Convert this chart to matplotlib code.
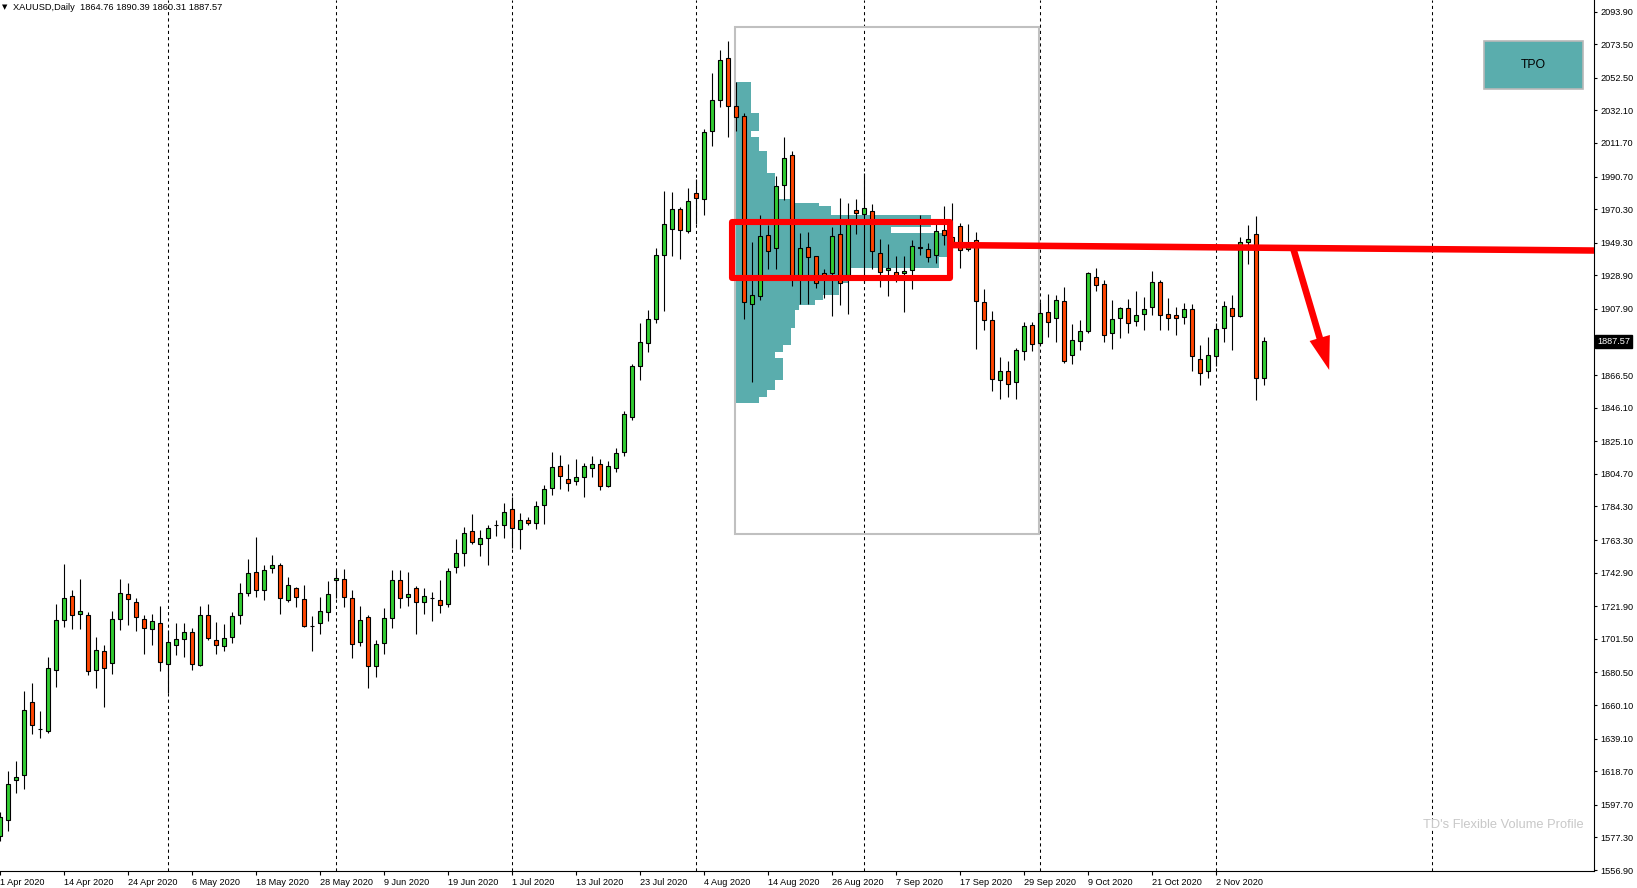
import numpy as np
import matplotlib.pyplot as plt
from matplotlib.patches import Rectangle
from matplotlib.transforms import blended_transform_factory

# daily OHLC, XAUUSD, 1 Apr 2020 .. 10 Nov 2020 (bar index = position on chart)
opens = [1578.0, 1588.0, 1613.4, 1616.6, 1662.3, 1645.1, 1643.9, 1681.9, 1713.4, 1728.5,
         1717.1, 1716.5, 1681.9, 1693.9, 1686.3, 1714.0, 1729.7, 1724.7, 1714.0, 1707.7,
         1711.5, 1685.7, 1697.7, 1701.4, 1705.8, 1685.1, 1716.5, 1700.8, 1697.0, 1702.7,
         1716.5, 1730.3, 1743.5, 1732.2, 1746.1, 1747.9, 1725.9, 1733.5, 1726.6, 1709.8,
         1711.5, 1718.4, 1738.5, 1739.1, 1727.2, 1699.5, 1715.3, 1684.5, 1698.9, 1714.6,
         1738.5, 1727.8, 1733.5, 1724.3, 1726.8, 1725.6, 1723.1, 1746.2, 1755.0, 1768.7,
         1760.6, 1764.4, 1772.9, 1772.5, 1782.5, 1770.0, 1775.6, 1773.7, 1785.0, 1795.6,
         1809.4, 1801.3, 1800.0, 1802.5, 1808.1, 1810.6, 1796.9, 1808.1, 1818.2, 1840.5,
         1872.0, 1886.4, 1901.4, 1941.4, 1957.7, 1970.2, 1956.4, 1980.2, 1976.4, 2019.0,
         2038.4, 2064.6, 2034.6, 2028.3, 1910.8, 1915.7, 1953.9, 1945.8, 1985.2, 2004.0,
         1928.1, 1946.4, 1940.8, 1930.1, 1930.1, 1954.5, 1929.1, 1969.6, 1967.1, 1968.9,
         1942.7, 1932.0, 1930.8, 1930.1, 1932.0, 1946.3, 1945.1, 1941.4, 1957.0, 1953.0,
         1959.5, 1945.1, 1950.8, 1912.0, 1900.7, 1863.2, 1868.8, 1861.9, 1881.3, 1897.6,
         1886.3, 1905.7, 1901.9, 1912.6, 1878.8, 1887.6, 1893.8, 1927.6, 1923.2, 1892.6,
         1902.0, 1908.2, 1900.1, 1904.5, 1908.9, 1924.5, 1904.5, 1903.9, 1902.6, 1907.6,
         1876.3, 1868.8, 1878.2, 1895.7, 1908.3, 1903.3, 1949.6, 1954.6, 1864.76]
highs = [1593.0, 1619.1, 1624.8, 1668.8, 1673.9, 1656.1, 1690.4, 1723.0, 1748.1, 1731.8,
         1739.1, 1718.2, 1702.7, 1697.7, 1719.2, 1739.1, 1736.6, 1727.2, 1716.5, 1717.1,
         1722.2, 1707.1, 1711.5, 1711.5, 1708.3, 1722.2, 1723.4, 1712.1, 1710.9, 1718.4,
         1736.6, 1751.7, 1765.5, 1748.0, 1754.2, 1749.2, 1740.4, 1734.1, 1735.4, 1715.9,
         1727.8, 1737.9, 1744.8, 1745.4, 1732.2, 1722.2, 1716.5, 1700.8, 1720.9, 1744.8,
         1744.8, 1743.5, 1734.7, 1733.1, 1730.6, 1738.1, 1745.6, 1763.9, 1771.5, 1779.6,
         1769.6, 1772.5, 1775.8, 1786.3, 1790.0, 1780.0, 1777.5, 1787.5, 1797.5, 1818.4,
         1816.3, 1810.6, 1813.8, 1811.3, 1815.7, 1813.8, 1812.5, 1820.7, 1843.8, 1873.5,
         1899.1, 1907.2, 1945.8, 1981.4, 1980.8, 1971.4, 1983.3, 1988.9, 2020.2, 2055.2,
         2069.6, 2075.3, 2049.6, 2030.2, 1949.5, 1966.4, 1960.2, 1990.8, 2015.2, 2006.5,
         1955.2, 1955.8, 1941.0, 1933.0, 1958.9, 1977.1, 1974.1, 1976.4, 1992.7, 1973.3,
         1951.4, 1948.3, 1940.8, 1940.8, 1950.8, 1966.4, 1948.9, 1960.8, 1972.0, 1973.9,
         1961.4, 1960.8, 1955.8, 1920.1, 1906.4, 1877.6, 1875.1, 1883.2, 1899.5, 1899.5,
         1912.0, 1917.0, 1916.4, 1921.4, 1898.2, 1900.7, 1930.7, 1933.2, 1925.7, 1913.2,
         1908.9, 1913.9, 1918.9, 1915.1, 1931.4, 1925.7, 1914.5, 1908.9, 1911.4, 1910.7,
         1885.1, 1890.1, 1898.8, 1913.0, 1916.4, 1952.7, 1960.2, 1965.8, 1890.39]
lows = [1575.0, 1581.6, 1604.9, 1607.5, 1641.7, 1639.8, 1642.4, 1671.7, 1708.8, 1707.5,
        1707.5, 1679.2, 1671.0, 1659.1, 1679.8, 1706.9, 1710.0, 1706.2, 1691.8, 1697.4,
        1681.1, 1667.9, 1691.4, 1690.1, 1681.9, 1684.5, 1700.8, 1691.8, 1693.9, 1698.9,
        1710.9, 1728.5, 1727.8, 1725.9, 1742.9, 1717.1, 1724.7, 1721.5, 1709.0, 1693.9,
        1704.6, 1712.7, 1727.2, 1721.5, 1689.5, 1697.0, 1670.6, 1677.5, 1692.0, 1708.3,
        1720.9, 1722.2, 1704.6, 1717.2, 1712.9, 1717.9, 1721.6, 1742.9, 1747.3, 1761.0,
        1753.5, 1747.9, 1766.0, 1764.8, 1758.5, 1757.9, 1772.9, 1770.4, 1773.5, 1791.7,
        1795.4, 1794.2, 1797.9, 1790.4, 1802.9, 1794.8, 1796.3, 1806.1, 1816.1, 1838.5,
        1863.6, 1881.2, 1899.1, 1906.8, 1941.2, 1939.3, 1955.2, 1960.8, 1966.8, 2009.6,
        2034.0, 2015.2, 2019.0, 1901.4, 1862.4, 1913.2, 1932.6, 1932.6, 1975.8, 1922.0,
        1911.0, 1911.0, 1921.0, 1914.5, 1903.2, 1910.3, 1905.0, 1954.5, 1924.0, 1932.6,
        1921.8, 1916.2, 1924.5, 1906.2, 1920.1, 1941.4, 1937.0, 1936.4, 1948.0, 1945.0,
        1933.3, 1943.9, 1882.6, 1894.5, 1856.3, 1851.3, 1852.6, 1851.3, 1875.7, 1881.3,
        1885.1, 1890.1, 1887.0, 1874.0, 1873.2, 1881.9, 1893.0, 1918.9, 1887.0, 1882.6,
        1889.5, 1892.6, 1897.0, 1894.5, 1903.9, 1894.5, 1894.5, 1891.3, 1898.2, 1869.2,
        1860.1, 1864.4, 1872.0, 1887.0, 1882.0, 1902.7, 1935.8, 1850.9, 1860.31]
closes = [1590.1, 1610.8, 1614.9, 1657.2, 1647.7, 1645.1, 1683.2, 1713.4, 1727.2, 1716.5,
          1719.2, 1681.3, 1694.5, 1683.2, 1714.0, 1730.3, 1726.6, 1715.3, 1708.3, 1712.7,
          1687.0, 1699.5, 1701.4, 1705.8, 1685.7, 1716.5, 1702.1, 1697.7, 1702.1, 1715.9,
          1730.3, 1742.9, 1732.2, 1744.8, 1747.9, 1727.2, 1735.4, 1727.8, 1709.6, 1709.8,
          1719.0, 1729.7, 1739.8, 1727.8, 1698.3, 1713.4, 1684.5, 1698.3, 1714.6, 1738.5,
          1727.2, 1729.7, 1724.7, 1728.1, 1726.8, 1722.5, 1743.7, 1755.0, 1767.5, 1761.9,
          1764.4, 1770.6, 1772.9, 1780.6, 1770.6, 1775.6, 1773.7, 1784.4, 1795.0, 1808.8,
          1803.1, 1798.8, 1802.5, 1809.4, 1810.6, 1796.9, 1809.4, 1817.5, 1841.9, 1872.0,
          1887.0, 1901.4, 1941.4, 1960.8, 1970.2, 1957.1, 1975.2, 1977.1, 2018.3, 2038.4,
          2063.4, 2034.6, 2027.7, 1912.0, 1916.4, 1953.3, 1943.9, 1984.6, 2002.1, 1928.1,
          1945.8, 1940.2, 1923.9, 1928.5, 1953.3, 1923.9, 1960.8, 1967.7, 1970.8, 1943.9,
          1930.8, 1933.3, 1928.7, 1931.4, 1947.0, 1946.2, 1940.1, 1956.4, 1953.9, 1950.0,
          1944.5, 1946.8, 1912.6, 1900.7, 1863.8, 1868.8, 1860.7, 1881.9, 1897.0, 1885.7,
          1905.1, 1899.5, 1913.2, 1875.1, 1888.2, 1893.8, 1930.1, 1922.6, 1891.3, 1901.4,
          1908.2, 1898.8, 1903.9, 1907.6, 1924.5, 1903.9, 1902.0, 1902.0, 1907.6, 1878.2,
          1867.6, 1878.8, 1895.1, 1909.5, 1903.3, 1949.6, 1951.4, 1864.9, 1887.57]

date_labels = ['1 Apr 2020', '14 Apr 2020', '24 Apr 2020', '6 May 2020', '18 May 2020',
               '28 May 2020', '9 Jun 2020', '19 Jun 2020', '1 Jul 2020', '13 Jul 2020',
               '23 Jul 2020', '4 Aug 2020', '14 Aug 2020', '26 Aug 2020', '7 Sep 2020',
               '17 Sep 2020', '29 Sep 2020', '9 Oct 2020', '21 Oct 2020', '2 Nov 2020']
label_step = 8
month_starts = [21, 42, 64, 87, 108, 130, 152, 179]

price_ticks = [2093.90, 2073.50, 2052.50, 2032.10, 2011.70, 1990.70, 1970.30, 1949.30,
               1928.90, 1907.90, 1866.50, 1846.10, 1825.10, 1804.70, 1784.30, 1763.30,
               1742.90, 1721.90, 1701.50, 1680.50, 1660.10, 1639.10, 1618.70, 1597.70,
               1577.30, 1556.90]
last_price = 1887.57

# volume profile (TPO) over the boxed range: level edges and width in bars
prof_edges = [2050.0, 2030.2, 2019.2, 2015.6, 2006.6, 1992.7, 1976.6, 1974.3, 1972.2,
              1966.6, 1959.1, 1955.4, 1940.3, 1933.5, 1924.1, 1916.6, 1913.4, 1910.3,
              1907.2, 1895.9, 1885.3, 1880.9, 1877.2, 1863.4, 1857.2, 1853.0, 1849.2]
prof_width = [2, 3, 2, 3, 4, 5, 7.4, 10.5, 12, 24.5, 19.5, 26.5, 25.5, 14.1, 13, 11, 10, 8,
              7.5, 7, 6, 5, 6, 5, 4, 3]
box_start, box_end = 91.94, 129.94
box_lo, box_hi = 1766.8, 2084.4

# hand drawn marks
zone_x = (91.48, 118.78)
zone_y = (1927.2, 1962.2)
level_x = (119.06, 199.4)
level_y = (1947.8, 1944.4)
arrow_from = (161.7, 1945.8)
arrow_to = (166.2, 1869.7)

plt.rcParams['font.family'] = ['Liberation Sans', 'DejaVu Sans']

W, H = 1637, 888
fig = plt.figure(figsize=(W / 100, H / 100), dpi=100)
fig.patch.set_facecolor('white')
ax = fig.add_axes([0, 17 / H, 1594 / W, 871 / H])
ax.set_xlim(0.0625, 199.3125)
ax.set_ylim(1556.3, 2101.1)

o = np.array(opens)
h = np.array(highs)
l = np.array(lows)
c = np.array(closes)
x = np.arange(len(o))

# month separators
for m in month_starts:
    ax.axvline(m, color='black', lw=0.75, ls=(0, (3, 3)), zorder=1)

# profile
edges = np.array(prof_edges)
ax.barh((edges[:-1] + edges[1:]) / 2, prof_width, height=edges[:-1] - edges[1:],
        left=box_start, color='#5AADAD', edgecolor='none', zorder=2)
ax.add_patch(Rectangle((box_start, box_lo), box_end - box_start, box_hi - box_lo,
                       fill=False, ec='#C0C0C0', lw=1.5, zorder=2.5))

# candles
ax.vlines(x, l, h, color='black', lw=0.8, zorder=3)
cols = np.where(c >= o, '#32CD32', '#FF4500')
ax.bar(x, c - o, bottom=o, width=0.5, color=cols, edgecolor='black', linewidth=0.8,
       zorder=4)

# zone, level and arrow
ax.add_patch(Rectangle((zone_x[0], zone_y[0]), zone_x[1] - zone_x[0], zone_y[1] - zone_y[0],
                       fill=False, ec='#FF0000', lw=4.4, joinstyle='round', zorder=6))
ax.plot(level_x, level_y, color='#FF0000', lw=4.7, solid_capstyle='butt', zorder=6)
ax.annotate('', xy=arrow_to, xytext=arrow_from,
            arrowprops=dict(arrowstyle='simple,head_length=0.6,head_width=0.38,tail_width=0.12',
                            mutation_scale=40, fc='#FF0000', ec='none',
                            shrinkA=0, shrinkB=0), zorder=6)

# axes
for s in ['left', 'top']:
    ax.spines[s].set_visible(False)
for s in ['right', 'bottom']:
    ax.spines[s].set_linewidth(0.8)
ax.yaxis.tick_right()
ax.set_yticks(price_ticks)
ax.set_yticklabels(['%.2f' % p for p in price_ticks])
ax.set_xticks(np.arange(len(date_labels)) * label_step)
ax.set_xticklabels(date_labels)
for t in ax.get_xticklabels():
    t.set_ha('left')
ax.tick_params(axis='y', direction='out', length=2.5, width=0.8, pad=2, labelsize=6.6)
ax.tick_params(axis='x', direction='out', length=3, width=0.8, pad=2, labelsize=6.6)

tr = blended_transform_factory(ax.transAxes, ax.transData)
ax.text(1.0 + 3 / 1594, last_price, '%.2f' % last_price, transform=tr, color='white',
        fontsize=6.6, ha='left', va='center', zorder=10, clip_on=False,
        bbox=dict(boxstyle='square,pad=0.2', fc='black', ec='black'))

# header, button, watermark
fig.text(2 / W, 1 - 7.5 / H, '\u25BC', fontsize=5, family='DejaVu Sans', va='center')
fig.text(13 / W, 1 - 7.5 / H, 'XAUUSD,Daily  1864.76 1890.39 1860.31 1887.57',
         fontsize=6.7, va='center')
fig.patches.append(Rectangle((1484.3 / W, 1 - 89.3 / H), 98.4 / W, 48.6 / H,
                             transform=fig.transFigure, fc='#5AADAD', ec='#B8B8B8',
                             lw=1.2, zorder=10))
fig.text(1533.5 / W, 1 - 64.5 / H, 'TPO', fontsize=8.8, ha='center', va='center',
         zorder=11)
fig.text(1584 / W, 1 - 825 / H, "TD's Flexible Volume Profile", fontsize=9.3,
         color='#C8C8C8', ha='right', va='center')

fig.savefig('out.png', dpi=100)
